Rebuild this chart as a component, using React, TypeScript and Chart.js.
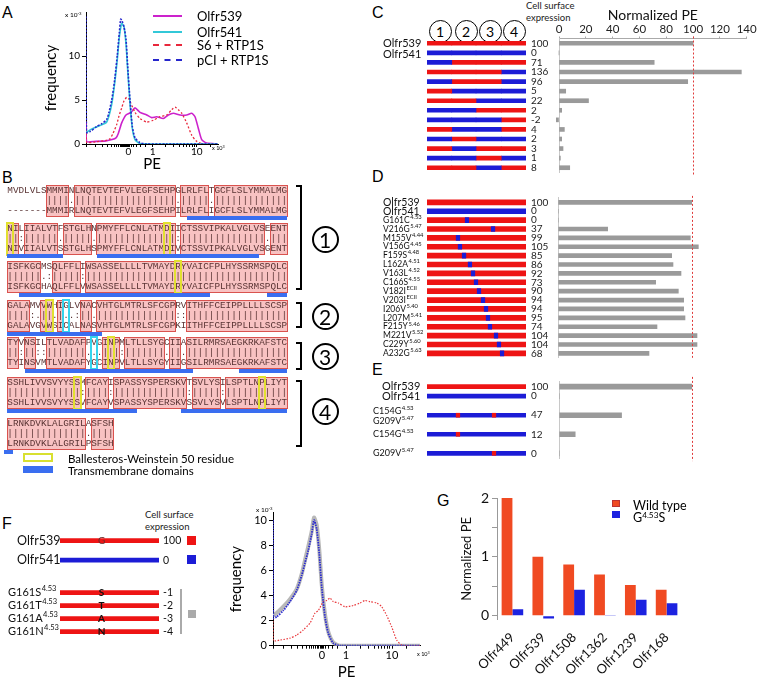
import React, { useEffect, useRef } from 'react';
import { Chart, registerables } from 'chart.js';

Chart.register(...registerables);
const FONT = 'Lato, "Liberation Sans", sans-serif';
Chart.defaults.font.family = FONT;
Chart.defaults.color = '#000';

const RED = '#ee1414';
const BLUE = '#1c1cd6';
const GRAY_BAR = '#9a9a9a';
const REF_RED = '#e03a3a';

// ---------------- Panel A (flow histogram) ----------------
const A_X_539 = [0, 0.5, 10, 20, 26, 30, 32.3, 35.7, 40, 45, 49, 54, 60.7, 65.7, 70.7, 77.3, 82.3, 87.3, 94, 100.7, 105.7, 109, 112.3, 115.7, 120.7, 132];
const A_Y_539 = [2.4, 0.3, 0.3, 0.35, 0.5, 0.7, 1.2, 2.4, 3.3, 3.6, 4.1, 3.6, 3.3, 3.0, 3.1, 2.9, 3.3, 3.5, 3.3, 3.3, 3.5, 3.1, 1.8, 0.5, 0.1, 0];
const A_X_541 = [0, 7.3, 14, 20.7, 25.7, 29, 31.3, 33.3, 35.7, 38, 40, 41.7, 44, 46.3, 49, 54, 70, 132];
const A_Y_541 = [1.3, 1.8, 2.1, 2.5, 4.5, 7.2, 9.6, 12.1, 13.7, 13.3, 11.4, 8.4, 4.6, 1.8, 0.5, 0.05, 0, 0];
const A_X_S6 = [0, 0.5, 10, 20, 24, 27, 30.7, 33, 35.7, 38, 40.7, 43, 45, 49, 54, 60.7, 67.3, 74, 80.7, 85.7, 89, 92.3, 95.7, 100.7, 105.7, 110.7, 117.3, 132];
const A_Y_S6 = [2.6, 0.2, 0.25, 0.4, 0.6, 1.2, 2.2, 3.2, 4.1, 4.9, 5.3, 5.1, 4.6, 3.6, 2.9, 2.5, 2.7, 3.1, 3.3, 3.9, 4.2, 3.9, 3.5, 2.4, 1.0, 0.3, 0, 0];
const A_X_PCI = [0, 0.5, 4, 10.7, 15.7, 20.7, 23, 25.7, 27.5, 29, 31.3, 33.3, 34.7, 36, 38, 40, 41.7, 44, 46.3, 49, 54, 60.7, 80, 132];
const A_Y_PCI = [14.5, 1.3, 1.4, 2.0, 2.3, 2.8, 3.6, 5.0, 6.3, 7.6, 10.1, 12.6, 14.2, 14.0, 13.3, 11.9, 8.8, 5.0, 2.0, 0.7, 0.15, 0, 0, 0];
const A_XTICK_POS = [0, 9, 16, 21, 25, 28, 30.5, 32.5, 34, 35.5, 36.5, 37.5, 38.5, 39.5, 40.5, 41.5, 42.3, 43.5, 45, 47, 50, 54, 59, 66.7, 79.9, 87.7, 93.2, 97.5, 100.9, 103.9, 106.4, 108.7, 110.7, 124];
const A_XTICK_LABEL: Record<string, string> = { '42.3': '0', '66.7': '1', '110.7': '10' };
const A_YTICKS = [0, 5, 10];

// ---------------- Panel B (alignment) ----------------
const B_TOP = [
  'MVDLVLSMMMINLNQTEVTEFVLEGFSEHPGLRLFLTGCFLSLYMMALMG',
  'NILIIALVTFSTGLHNPMYFFLCNLATMDIICTSSVIPKALVGLVSEENT',
  'ISFKGCMSQLFFLIWSASSELLLLTVMAYDRYVAICFPLHYSSRMSPQLC',
  'GALAMVVWHIGLVNACVHTGLMTRLSFCGPRVITHFFCEIPPLLLLSCSP',
  'TYVNSILTLVADAFPVGINPMLTLLSYGCIIASILRMRSAEGKRKAFSTC',
  'SSHLIVVSVYYSSMFCAYISPASSYSPERSKVTSVLYSILSPTLNPLIYT',
  'LRNKDVKLALGRILASFSH',
];
const B_BOT = [
  '-------MMMIRLNQTEVTEFVLEGFSEHPILRLFLIGCFLSLYMMALMG',
  'NIVIIALVTSSTGLHSPMYFFLCNLATMDIVCTSSVIPKALVGLVSGENT',
  'ISFKGCHAQLFFLVWSASSELLLLTVMAYDRYVAICFPLHYSSRMSPQLC',
  'GALAVGVWSICALNASVHTGLMTRLSFCGPKIITHFFCEIPPLLLLSCSP',
  'TYINSVMTLVADAFYGCINPVLTLLSYGYIIGSILRMRSAEGKRKAFSTC',
  'SSHLIVVSVYYSSVFCAYVSPASSYSPERSKVSSVLYSVLSPTLNPLIYT',
  'LRNKDVKLALGRILPSFSH',
];
const B_TM: number[][][] = [
  [[32, 50]],
  [[0, 10], [16, 45]],
  [[2, 36.2], [46.3, 50]],
  [[0, 17]],
  [[3.2, 33.2], [41.4, 50]],
  [[0, 23.2], [31, 50]],
  [[-0.6, 1]],
];
const B_BW: number[][] = [[], [0, 28], [30], [7], [18], [12, 45], []];
const B_KEY: number[][] = [[], [], [], [10], [15], [], []];
const B_Y = [190.5, 228.5, 267, 306, 343, 383, 424];

// ---------------- Panel C ----------------
const C_PATTERNS = ['RRRR', 'BBBB', 'BRRR', 'RRRB', 'BRRB', 'RBBB', 'RRBB', 'BBRR', 'BBBR', 'RBBR', 'BRBB', 'RBRR', 'BBRB', 'RRBR'];
const C_SEG_EDGES = [0, 25, 49.5, 75, 100];
const C_PE = [100, 0, 71, 136, 96, 5, 22, 2, -2, 4, 2, 3, 1, 8];
const C_PE_TICKS_STEP = 20;

// ---------------- Panel D ----------------
const D_LABELS = ['Olfr539', 'Olfr541', 'G161C', 'V216G', 'M155V', 'V156G', 'F159S', 'L162A', 'V163L', 'C166S', 'V182I', 'V203I', 'I206V', 'L207M', 'F215Y', 'M221V', 'C229Y', 'A232G'];
const D_SUPS = ['', '', '4.53', '5.47', '4.44', '4.45', '4.48', '4.51', '4.52', '4.55', 'ECII', 'ECII', '5.40', '5.41', '5.46', '5.52', '5.60', '5.63'];
const D_BASE = ['R', 'B', 'R', 'R', 'R', 'R', 'R', 'R', 'R', 'R', 'R', 'R', 'R', 'R', 'R', 'R', 'R', 'R'];
const D_MUT = [null, null, 40.4, 66.7, 31.3, 33.3, 37.4, 43.4, 46.5, 49.5, 52.5, 56.6, 59.6, 61.6, 63.6, 69.7, 72.7, 75.8];
const D_PE = [100, 0, 0, 37, 99, 105, 85, 86, 92, 73, 90, 94, 94, 95, 74, 104, 104, 68];

// ---------------- Panel E ----------------
const E_BASE = ['R', 'B', '', 'B', '', 'B', '', 'B'];
const E_MUT_A = [null, null, null, 31.3, null, 31.3, null, null];
const E_MUT_B = [null, null, null, 67.7, null, null, null, 67.7];
const E_PE = [100, 0, null, 47, null, 12, null, 0];

// ---------------- Panel F ----------------
const F_NAMES = ['Olfr539', 'Olfr541', 'G161S', 'G161T', 'G161A', 'G161N'];
const F_SUPS = ['', '', '4.53', '4.53', '4.53', '4.53'];
const F_BASE = ['R', 'B', 'R', 'R', 'R', 'R'];
const F_LETTER = ['G', '', 'S', 'T', 'A', 'N'];
const F_EXPR = [100, 0, -1, -2, -3, -4];
const F_X_PCI = [0, 0.3, 3.7, 10.3, 17, 23.7, 28.7, 32, 35.3, 38.7, 41, 43.7, 46.3, 48.7, 52, 55.3, 60.3, 67, 147];
const F_Y_PCI = [10.0, 2.2, 2.3, 2.8, 3.5, 4.4, 5.6, 6.6, 7.6, 8.9, 10.0, 9.3, 7.3, 4.7, 2.3, 1.0, 0.2, 0, 0];
const F_X_MUT = [0, 3.7, 10.3, 17, 23.7, 28.7, 32, 35.3, 38.7, 41, 43.7, 46.3, 48.7, 52, 55.3, 60.3, 67, 147];
const F_Y_MUT = [2.4, 2.6, 3.1, 3.7, 4.5, 5.7, 6.8, 7.9, 9.1, 10.2, 9.6, 7.6, 4.9, 2.5, 1.1, 0.25, 0, 0];
const F_X_539 = [0, 0.3, 7, 17, 23.7, 30.3, 37, 42, 45.3, 50.3, 53.7, 57, 60.3, 65.3, 72, 80.3, 87, 92, 97, 103.7, 108.7, 113.7, 118.7, 123.7, 128.7, 137, 147];
const F_Y_539 = [2.2, 0.4, 0.45, 0.6, 0.85, 1.25, 1.8, 2.6, 2.8, 3.5, 3.6, 3.8, 3.5, 3.4, 3.1, 3.2, 3.4, 3.6, 3.5, 3.4, 3.1, 2.4, 1.5, 0.45, 0.05, 0, 0];
const F_XTICK_POS = [0, 10, 18, 24, 29, 33, 36, 38.5, 40.5, 42.5, 44, 45.5, 47, 48, 49, 50.5, 52, 55, 59, 64, 73, 87, 95, 101, 105, 108.5, 111.5, 114, 116.5, 119, 133];
const F_XTICK_LABEL: Record<string, string> = { '49': '0', '73': '1', '119': '10' };
const F_YTICKS = [0, 2, 4, 6, 8, 10];

// ---------------- Panel G ----------------
const G_CATS = ['Olfr449', 'Olfr539', 'Olfr1508', 'Olfr1362', 'Olfr1239', 'Olfr168'];
const G_WT = [2.0, 1.0, 0.87, 0.7, 0.52, 0.44];
const G_MUT = [0.11, -0.05, 0.44, 0.01, 0.27, 0.21];
const G_YTICKS = [0, 0.5, 1, 1.5, 2];

// ---------------- helpers ----------------
const fixW = (w: number) => (s: any) => { s.width = w; };
const fixH = (h: number) => (s: any) => { s.height = h; };
const setTicks = (arr: number[]) => (s: any) => { s.ticks = arr.map((v) => ({ value: v })); };
const col = (c: string) => (c === 'R' ? RED : BLUE);

type TextItem = { row: number; text: string; sup?: string; x?: number; xv?: number; size: number; supSize?: number; align?: string; color?: string; weight?: string; dy?: number };

function rowTextPlugin(id: string, items: TextItem[]) {
  return {
    id,
    afterDatasetsDraw(chart: any) {
      const ctx = chart.ctx;
      const ys = chart.scales.y;
      const xs = chart.scales.x;
      ctx.save();
      ctx.textBaseline = 'middle';
      ctx.textAlign = 'left';
      for (const it of items) {
        const y = ys.getPixelForValue(it.row) + (it.dy || 0);
        const x = it.xv != null ? xs.getPixelForValue(it.xv) : (it.x as number);
        const wt = it.weight || 'normal';
        ctx.font = `${wt} ${it.size}px ${FONT}`;
        const w = ctx.measureText(it.text).width;
        const ss = it.supSize || it.size * 0.66;
        let sw = 0;
        if (it.sup) {
          ctx.font = `${wt} ${ss}px ${FONT}`;
          sw = ctx.measureText(it.sup).width + 0.5;
        }
        let sx = x;
        if (it.align === 'right') sx = x - w - sw;
        else if (it.align === 'center') sx = x - (w + sw) / 2;
        ctx.fillStyle = it.color || '#111';
        ctx.font = `${wt} ${it.size}px ${FONT}`;
        ctx.fillText(it.text, sx, y);
        if (it.sup) {
          ctx.font = `${wt} ${ss}px ${FONT}`;
          ctx.fillText(it.sup, sx + w + 0.5, y - it.size * 0.36);
        }
      }
      ctx.restore();
    },
  };
}

function refLinePlugin(value: number, extTop: number, extBottom: number) {
  return {
    id: 'refLine',
    afterDatasetsDraw(chart: any) {
      const ctx = chart.ctx;
      const x = Math.round(chart.scales.x.getPixelForValue(value)) + 0.5;
      const { top, bottom } = chart.chartArea;
      ctx.save();
      ctx.strokeStyle = REF_RED;
      ctx.lineWidth = 1;
      ctx.setLineDash([2, 2]);
      ctx.beginPath();
      ctx.moveTo(x, top - extTop);
      ctx.lineTo(x, bottom + extBottom);
      ctx.stroke();
      ctx.restore();
    },
  };
}

const baseOpts = () => ({
  responsive: false,
  animation: false,
  devicePixelRatio: 1,
  plugins: { legend: { display: false }, tooltip: { enabled: false } },
});

function hiddenBarOpts(padding: any) {
  return {
    ...baseOpts(),
    indexAxis: 'y',
    layout: { padding },
    scales: {
      x: { type: 'linear', display: false, min: 0, max: 100 },
      y: { type: 'category', display: false },
    },
  };
}

// order: lower number is drawn on top
function lineDs(label: string, xs: number[], ys: number[], color: string, width: number, dash: number[], order: number) {
  return {
    label,
    data: xs.map((x, i) => ({ x, y: ys[i] })),
    borderColor: color,
    borderWidth: width,
    borderDash: dash,
    pointRadius: 0,
    tension: 0.2,
    fill: false,
    order,
  };
}

function ChartBox({ left, top, width, height, make }: any) {
  const ref = useRef<HTMLCanvasElement>(null);
  useEffect(() => {
    const chart = new Chart(ref.current as HTMLCanvasElement, make());
    return () => chart.destroy();
  }, []);
  return <canvas ref={ref} width={width} height={height} style={{ position: 'absolute', left, top, width, height }} />;
}

function T({ x, y, s, children, a = 'left', w = 'normal', c = '#000', f }: any) {
  const tr = a === 'left' ? 'translateY(-50%)' : a === 'center' ? 'translate(-50%,-50%)' : 'translate(-100%,-50%)';
  return (
    <div style={{ position: 'absolute', left: x, top: y, transform: tr, fontSize: s, whiteSpace: 'nowrap', lineHeight: 1, fontWeight: w, color: c, fontFamily: f || FONT }}>
      {children}
    </div>
  );
}
const Sup = ({ children }: any) => <sup style={{ fontSize: '0.66em', verticalAlign: '0.5em', lineHeight: 0 }}>{children}</sup>;

// ---------------- chart configs ----------------
const SIG = { C_539: '#cc22cc', C_541: '#33c8d8', C_S6: '#e8283c', C_PCI: '#2626cc' };

const makeA = () => ({
  type: 'line',
  data: {
    datasets: [
      lineDs('S6 + RTP1S', A_X_S6, A_Y_S6, SIG.C_S6, 1.3, [2, 2], 3),
      lineDs('Olfr539', A_X_539, A_Y_539, SIG.C_539, 1.6, [], 4),
      lineDs('Olfr541', A_X_541, A_Y_541, SIG.C_541, 1.6, [], 2),
      lineDs('pCI + RTP1S', A_X_PCI, A_Y_PCI, SIG.C_PCI, 1.6, [2, 1.5], 1),
    ],
  },
  options: {
    ...baseOpts(),
    layout: { padding: { top: 12, right: 12, left: 0, bottom: 0 } },
    scales: {
      x: {
        type: 'linear', min: 0, max: 132, afterFit: fixH(33), afterBuildTicks: setTicks(A_XTICK_POS),
        ticks: { autoSkip: false, maxRotation: 0, callback: (v: any) => A_XTICK_LABEL[String(v)] ?? '', font: { size: 10 }, color: '#000', padding: -1 },
        grid: { drawOnChartArea: false, tickLength: 3, color: '#000' },
        border: { color: '#000' },
        title: { display: true, text: 'PE', font: { size: 15 }, color: '#000' },
      },
      y: {
        type: 'linear', min: 0, max: 15, afterFit: fixW(48), afterBuildTicks: setTicks(A_YTICKS),
        ticks: { font: { size: 10 }, color: '#000', padding: 2 },
        grid: { drawOnChartArea: false, tickLength: 4, color: '#000' },
        border: { color: '#000' },
        title: { display: true, text: 'frequency', font: { size: 15 }, color: '#000' },
      },
    },
  },
});

const makeF = () => ({
  type: 'line',
  data: {
    datasets: [
      lineDs('G161 mutants', F_X_MUT, F_Y_MUT, '#b8b8b8', 4, [], 3),
      lineDs('Olfr539', F_X_539, F_Y_539, '#e8383c', 1.2, [1.5, 1.5], 2),
      lineDs('pCI', F_X_PCI, F_Y_PCI, '#2a2ad0', 1.8, [1.5, 1], 1),
    ],
  },
  options: {
    ...baseOpts(),
    layout: { padding: { top: 12.5, right: 13, left: 0, bottom: 0 } },
    scales: {
      x: {
        type: 'linear', min: 0, max: 147, afterFit: fixH(39.3), afterBuildTicks: setTicks(F_XTICK_POS),
        ticks: { autoSkip: false, maxRotation: 0, callback: (v: any) => F_XTICK_LABEL[String(v)] ?? '', font: { size: 11 }, color: '#000', padding: 0 },
        grid: { drawOnChartArea: false, tickLength: 3, color: '#000' },
        border: { color: '#000' },
        title: { display: true, text: 'PE', font: { size: 15 }, color: '#000' },
      },
      y: {
        type: 'linear', min: 0, max: 10.6, afterFit: fixW(50), afterBuildTicks: setTicks(F_YTICKS),
        ticks: { font: { size: 11 }, color: '#000', padding: 2 },
        grid: { drawOnChartArea: false, tickLength: 4, color: '#000' },
        border: { color: '#000' },
        title: { display: true, text: 'frequency', font: { size: 15 }, color: '#000' },
      },
    },
  },
});

const makeG = () => ({
  type: 'bar',
  data: {
    labels: G_CATS,
    datasets: [
      { label: 'Wild type', data: G_WT, backgroundColor: '#f04a22', categoryPercentage: 0.7, barPercentage: 1 },
      { label: 'G4.53S', data: G_MUT, backgroundColor: '#1c22e0', categoryPercentage: 0.7, barPercentage: 1 },
    ],
  },
  options: {
    ...baseOpts(),
    layout: { padding: { top: 28, right: 13, left: 0, bottom: 0 } },
    scales: {
      x: {
        afterFit: fixH(57.2),
        ticks: { minRotation: 45, maxRotation: 45, font: { size: 13 }, color: '#111', padding: 2, autoSkip: false },
        grid: { display: false },
        border: { display: false },
      },
      y: {
        type: 'linear', min: -0.07, max: 2, afterFit: fixW(42), afterBuildTicks: setTicks(G_YTICKS),
        ticks: { font: { size: 14 }, color: '#111', padding: 3, callback: (v: any) => (Number.isInteger(v) ? String(v) : '') },
        grid: { drawOnChartArea: false, tickLength: 5, color: '#999' },
        border: { color: '#999' },
        title: { display: true, text: 'Normalized PE', font: { size: 13 }, color: '#111' },
      },
    },
  },
});

// C diagram + PE
const makeCDiag = () => ({
  type: 'bar',
  data: {
    labels: C_PATTERNS,
    datasets: [0, 1, 2, 3].map((q) => ({
      data: C_PATTERNS.map(() => [C_SEG_EDGES[q], C_SEG_EDGES[q + 1]]),
      backgroundColor: C_PATTERNS.map((p) => col(p[q])),
      barThickness: 4,
      grouped: false,
      borderWidth: 0,
    })),
  },
  options: hiddenBarOpts({ left: 47, right: 4, top: 38.5, bottom: 7.5 }),
  plugins: [
    rowTextPlugin('cLab', [
      { row: 0, text: 'Olfr539', x: 3, size: 11 },
      { row: 1, text: 'Olfr541', x: 3, size: 11, dy: 2 },
    ]),
  ],
});

const peYAxis = (w: number) => ({
  type: 'category',
  afterFit: fixW(w),
  ticks: { crossAlign: 'far', font: { size: 10 }, color: '#222', autoSkip: false, padding: 0 },
  grid: { display: false },
  border: { color: '#c8c8c8' },
});

const makeCPE = () => ({
  type: 'bar',
  data: { labels: C_PE.map(String), datasets: [{ data: C_PE, backgroundColor: GRAY_BAR, barThickness: 4, clip: false }] },
  options: {
    ...baseOpts(),
    indexAxis: 'y',
    layout: { padding: { top: 2.6, right: 10.3, left: 0, bottom: 7.5 } },
    scales: {
      x: {
        type: 'linear', position: 'top', min: 0, max: 140, afterFit: fixH(35.9),
        ticks: { stepSize: C_PE_TICKS_STEP, font: { size: 11.5 }, color: '#222', padding: 0 },
        grid: { drawOnChartArea: false, tickLength: 2, color: '#aaa' },
        border: { color: '#aaa' },
        title: { display: true, text: 'Normalized PE', font: { size: 14 }, color: '#111' },
      },
      y: peYAxis(28),
    },
  },
  plugins: [refLinePlugin(100, 2, 4)],
});

const dotData = (arr: (number | null)[]) => arr.map((p) => (p == null ? null : [p - 1.8, p + 1.8]));

const makeDDiag = () => ({
  type: 'bar',
  data: {
    labels: D_LABELS,
    datasets: [
      { data: dotData(D_MUT), backgroundColor: BLUE, barThickness: 5, grouped: false, borderWidth: 0, order: 1 },
      { data: D_BASE.map(() => [0, 100]), backgroundColor: D_BASE.map(col), barThickness: 5, grouped: false, borderWidth: 0, order: 2 },
    ],
  },
  options: hiddenBarOpts({ left: 47, right: 4, top: 7.9, bottom: 7.2 }),
  plugins: [
    rowTextPlugin('dLab', D_LABELS.map((t, i) => ({ row: i, text: t, sup: D_SUPS[i], x: 3, size: i < 2 ? 10.5 : 8.5, supSize: 5.8 }))),
  ],
});

const makeDPE = () => ({
  type: 'bar',
  data: { labels: D_PE.map(String), datasets: [{ data: D_PE, backgroundColor: GRAY_BAR, barThickness: 4 }] },
  options: {
    ...baseOpts(),
    indexAxis: 'y',
    layout: { padding: { top: 7.9, right: 0, left: 0, bottom: 7.2 } },
    scales: { x: { type: 'linear', display: false, min: 0, max: 110 }, y: peYAxis(27.3) },
  },
  plugins: [refLinePlugin(100, 2, 0)],
});

const E_LABEL_ITEMS: TextItem[] = [
  { row: 0, text: 'Olfr539', x: 12, size: 11 },
  { row: 1, text: 'Olfr541', x: 12, size: 11 },
  { row: 3, text: 'C154G', sup: '4.53', x: 3, size: 9, supSize: 6, dy: -4 },
  { row: 3, text: 'G209V', sup: '5.47', x: 3, size: 9, supSize: 6, dy: 6 },
  { row: 5, text: 'C154G', sup: '4.53', x: 3, size: 9, supSize: 6 },
  { row: 7, text: 'G209V', sup: '5.47', x: 3, size: 9, supSize: 6 },
];

const makeEDiag = () => ({
  type: 'bar',
  data: {
    labels: E_BASE.map((b, i) => 'r' + i),
    datasets: [
      { data: dotData(E_MUT_A), backgroundColor: RED, barThickness: 4, grouped: false, borderWidth: 0, order: 1 },
      { data: dotData(E_MUT_B), backgroundColor: RED, barThickness: 4, grouped: false, borderWidth: 0, order: 1 },
      { data: E_BASE.map((b) => (b ? [0, 100] : null)), backgroundColor: E_BASE.map((b) => (b ? col(b) : RED)), barThickness: 4, grouped: false, borderWidth: 0, order: 2 },
    ],
  },
  options: hiddenBarOpts({ left: 57, right: 4, top: 6.9, bottom: 6.9 }),
  plugins: [rowTextPlugin('eLab', E_LABEL_ITEMS)],
});

const makeEPE = () => ({
  type: 'bar',
  data: { labels: E_PE.map((v) => (v == null ? '' : String(v))), datasets: [{ data: E_PE, backgroundColor: GRAY_BAR, barThickness: 5 }] },
  options: {
    ...baseOpts(),
    indexAxis: 'y',
    layout: { padding: { top: 6.9, right: 0, left: 0, bottom: 6.9 } },
    scales: { x: { type: 'linear', display: false, min: 0, max: 110 }, y: peYAxis(28.3) },
  },
  plugins: [refLinePlugin(100, 5, 3)],
});

// F diagram: 15 layout slots
const F_SLOTS = [0, 3, 8, 10, 12, 14];
const F_NSLOT = 15;
const makeFDiag = () => {
  const labels = Array.from({ length: F_NSLOT }, (_, i) => 's' + i);
  const base: any[] = labels.map(() => null);
  const colors: string[] = labels.map(() => RED);
  F_SLOTS.forEach((s, i) => { base[s] = [0, 100]; colors[s] = col(F_BASE[i]); });
  const items: TextItem[] = [];
  F_NAMES.forEach((n, i) => {
    const s = F_SLOTS[i];
    items.push({ row: s, text: n, sup: F_SUPS[i], x: i < 2 ? 17 : 8, size: i < 2 ? 12.5 : 11, supSize: 7.5 });
    items.push({ row: s, text: String(F_EXPR[i]), x: 163, size: 10.5 });
    if (F_LETTER[i]) items.push({ row: s, text: F_LETTER[i], xv: 42, size: 10, align: 'center', weight: i < 2 ? 'normal' : 'bold', color: i < 2 ? '#6a2a2a' : '#111' });
  });
  return {
    type: 'bar',
    data: { labels, datasets: [{ data: base, backgroundColor: colors, barThickness: 4, borderWidth: 0 }] },
    options: hiddenBarOpts({ left: 60, right: 61, top: 12.45, bottom: 10.05 }),
    plugins: [rowTextPlugin('fLab', items)],
  };
};

// ---------------- alignment rendering ----------------
const STRONG = ['STA', 'NEQK', 'NHQK', 'NDEQ', 'QHRK', 'MILV', 'MILF', 'HY', 'FYW'];
function matchChar(a: string, b: string) {
  if (!a || !b || a === '-' || b === '-') return ' ';
  if (a === b) return '|';
  if (STRONG.some((g) => g.includes(a) && g.includes(b))) return ':';
  return '.';
}
const CH = 5.6;
const X0 = 7.3;

function AlignmentBlock({ bi }: { bi: number }) {
  const top = B_TOP[bi];
  const bot = B_BOT[bi];
  const y = B_Y[bi];
  const mid = top.split('').map((c, i) => matchChar(c, bot[i])).join('');
  const runs: number[][] = [];
  let s = -1;
  for (let i = 0; i <= top.length; i++) {
    const ok = i < top.length && top[i] === bot[i] && top[i] !== '-';
    if (ok && s < 0) s = i;
    if (!ok && s >= 0) { runs.push([s, i]); s = -1; }
  }
  const mono: any = { position: 'absolute', left: X0, fontFamily: '"Liberation Mono", monospace', fontSize: 9.33, lineHeight: '10px', whiteSpace: 'pre', color: '#5a3434' };
  return (
    <>
      {runs.map(([a, b], k) => (
        <div key={'r' + k} style={{ position: 'absolute', left: X0 + a * CH - 0.5, top: y - 6, width: (b - a) * CH + 1, height: 32, background: 'rgba(240,120,120,0.45)', border: '1px solid #d9534f', boxSizing: 'border-box' }} />
      ))}
      <div style={{ ...mono, top: y - 5 }}>{top}</div>
      <div style={{ ...mono, top: y + 5 }}>{mid}</div>
      <div style={{ ...mono, top: y + 15 }}>{bot}</div>
      {B_BW[bi].map((i, k) => (
        <div key={'y' + k} style={{ position: 'absolute', left: X0 + i * CH - 1.5, top: y - 7, width: CH + 3, height: 34, border: '2px solid #e2e030', boxSizing: 'border-box' }} />
      ))}
      {B_KEY[bi].map((i, k) => (
        <div key={'c' + k} style={{ position: 'absolute', left: X0 + i * CH - 1.5, top: y - 7, width: CH + 3, height: 34, border: '2px solid #36d4ec', boxSizing: 'border-box' }} />
      ))}
      {B_TM[bi].map(([a, b], k) => (
        <div key={'t' + k} style={{ position: 'absolute', left: X0 + a * CH, top: y + 25.5, width: (b - a) * CH, height: 4, background: '#3a6ef0' }} />
      ))}
    </>
  );
}

const BRACKETS = [[185, 290, 239.3, '1'], [301.7, 328.3, 316.7, '2'], [341.7, 370, 356, '3'], [380, 446.7, 411.7, '4']];
const C_CIRCLES = [[440, '1'], [466, '2'], [490, '3'], [514, '4']];
const LETTER_FONT = '"Liberation Sans", sans-serif';

export default function App() {
  return (
    <div style={{ position: 'absolute', left: 0, top: 0, width: 757, height: 677, overflow: 'hidden', background: '#fff', fontFamily: FONT }}>
      {/* Panel letters */}
      <T x={2} y={12.5} s={16} f={LETTER_FONT}>A</T>
      <T x={2} y={178} s={16} f={LETTER_FONT}>B</T>
      <T x={372} y={12.5} s={16} f={LETTER_FONT}>C</T>
      <T x={372} y={177} s={16} f={LETTER_FONT}>D</T>
      <T x={372} y={370} s={16} f={LETTER_FONT}>E</T>
      <T x={2} y={524} s={16} f={LETTER_FONT}>F</T>
      <T x={437} y={501} s={16} f={LETTER_FONT}>G</T>

      {/* Panel A */}
      <ChartBox left={38} top={0} width={192} height={177} make={makeA} />
      <T x={65} y={15} s={6.5}>x 10<Sup>-3</Sup></T>
      <T x={212} y={149} s={5.5}>x 10<Sup>3</Sup></T>
      {[
        ['Olfr539', SIG.C_539, 'solid', 16],
        ['Olfr541', SIG.C_541, 'solid', 31.7],
        ['S6 + RTP1S', SIG.C_S6, 'dashed', 45],
        ['pCI + RTP1S', SIG.C_PCI, 'dashed', 60],
      ].map(([t, c, st, y]: any) => (
        <React.Fragment key={t}>
          <div style={{ position: 'absolute', left: 153, top: y - 1, width: 29, borderTop: `2px ${st} ${c}` }} />
          <T x={197} y={y} s={13}>{t}</T>
        </React.Fragment>
      ))}

      {/* Panel B */}
      {B_TOP.map((_, i) => <AlignmentBlock key={i} bi={i} />)}
      <div style={{ position: 'absolute', left: 23, top: 453, width: 30, height: 9, border: '2px solid #d8e030', boxSizing: 'border-box' }} />
      <div style={{ position: 'absolute', left: 23, top: 466, width: 30, height: 7, background: '#3a6ef0' }} />
      <T x={68} y={458.5} s={11.5}>Ballesteros-Weinstein 50 residue</T>
      <T x={68} y={470.5} s={11.5}>Transmembrane domains</T>
      {BRACKETS.map(([y1, y2, cy, n]: any) => (
        <React.Fragment key={n}>
          <div style={{ position: 'absolute', left: 296, top: y1, width: 6, height: y2 - y1, border: '2px solid #000', borderLeft: 'none', boxSizing: 'border-box' }} />
          <div style={{ position: 'absolute', left: 325 - 13.5, top: cy - 13.5, width: 27, height: 27, borderRadius: '50%', border: '2.2px solid #000', boxSizing: 'border-box', display: 'flex', alignItems: 'center', justifyContent: 'center', fontSize: 21, lineHeight: 1 }}>{n}</div>
        </React.Fragment>
      ))}

      {/* Panel C */}
      {C_CIRCLES.map(([x, n]: any) => (
        <div key={n} style={{ position: 'absolute', left: x - 11.5, top: 31.7 - 11.5, width: 23, height: 23, borderRadius: '50%', border: '1.3px solid #000', boxSizing: 'border-box', display: 'flex', alignItems: 'center', justifyContent: 'center', fontSize: 14, lineHeight: 1 }}>{n}</div>
      ))}
      <div style={{ position: 'absolute', left: 526, top: 0, fontSize: 9.5, lineHeight: '11.5px', color: '#222' }}>Cell surface<br />expression</div>
      <ChartBox left={380} top={0} width={150} height={180} make={makeCDiag} />
      <ChartBox left={531} top={0} width={226} height={180} make={makeCPE} />

      {/* Panel D */}
      <ChartBox left={380} top={190} width={150} height={175} make={makeDDiag} />
      <ChartBox left={531} top={190} width={174} height={175} make={makeDPE} />

      {/* Panel E */}
      <ChartBox left={370} top={375} width={160} height={90} make={makeEDiag} />
      <ChartBox left={531} top={375} width={174} height={90} make={makeEPE} />

      {/* Panel F */}
      <div style={{ position: 'absolute', left: 145, top: 509, fontSize: 9.5, lineHeight: '12px', color: '#222' }}>Cell surface<br />expression</div>
      <ChartBox left={0} top={525} width={220} height={120} make={makeFDiag} />
      <div style={{ position: 'absolute', left: 187, top: 536, width: 9, height: 9, background: RED }} />
      <div style={{ position: 'absolute', left: 187, top: 555, width: 9, height: 9, background: BLUE }} />
      <div style={{ position: 'absolute', left: 188, top: 610, width: 8, height: 8, background: '#aaa' }} />
      <div style={{ position: 'absolute', left: 180, top: 589, width: 1.5, height: 45, background: '#aaa' }} />
      <ChartBox left={223} top={500} width={210} height={185} make={makeF} />
      <T x={256} y={510} s={6.5}>x 10<Sup>-3</Sup></T>
      <T x={417} y={655} s={5.5}>x 10<Sup>3</Sup></T>

      {/* Panel G */}
      <ChartBox left={455} top={470} width={240} height={207} make={makeG} />
      <div style={{ position: 'absolute', left: 612, top: 500, width: 8, height: 7, background: '#f04a22', border: '1px solid #b33', boxSizing: 'border-box' }} />
      <div style={{ position: 'absolute', left: 612, top: 511, width: 8, height: 7, background: '#1c22e0' }} />
      <T x={633} y={505.5} s={12.5}>Wild type</T>
      <T x={633} y={517.5} s={12.5}>G<Sup>4.53</Sup>S</T>
    </div>
  );
}
